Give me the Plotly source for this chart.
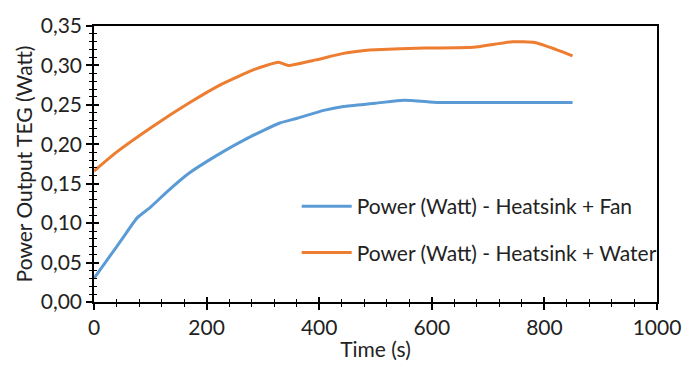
import plotly.graph_objects as go

fan_t = [0, 25, 50, 77, 100, 130, 168, 216, 268, 330, 361, 408, 443, 500, 550, 610, 650, 700, 750, 800, 850]
fan_p = [0.030, 0.055, 0.080, 0.107, 0.120, 0.140, 0.163, 0.185, 0.206, 0.227, 0.233, 0.243, 0.248, 0.252,
         0.256, 0.253, 0.253, 0.253, 0.253, 0.253, 0.253]

water_t = [0, 40, 103, 168, 226, 285, 328, 345, 394, 441, 481, 500, 587, 674, 743, 783, 825, 850]
water_p = [0.166, 0.190, 0.222, 0.252, 0.276, 0.295, 0.304, 0.300, 0.307, 0.315, 0.319, 0.320, 0.322,
           0.323, 0.330, 0.329, 0.319, 0.312]

names = ["Power (Watt) - Heatsink + Fan", "Power (Watt) - Heatsink + Water"]
colors = ["#5B9BD5", "#ED7D31"]

FONT = "Lato"
FS = 21

fig = go.Figure()
fig.add_trace(go.Scatter(x=fan_t, y=fan_p, mode="lines", name=names[0], legendgroup="a",
                         line=dict(color=colors[0], width=3, shape="spline", smoothing=0.5)))
fig.add_trace(go.Scatter(x=water_t, y=water_p, mode="lines", name=names[1], legendgroup="b",
                         line=dict(color=colors[1], width=3, shape="spline", smoothing=0.5)))
# invisible helper trace for the inside half of the crossing ticks
fig.add_trace(go.Scatter(x=[0], y=[0], xaxis="x2", yaxis="y2", mode="markers",
                         marker=dict(opacity=0), showlegend=False, hoverinfo="skip"))

axis_common = dict(showgrid=False, zeroline=False, linecolor="black", linewidth=1.5,
                   tickcolor="black", tickfont=dict(family=FONT, size=FS, color="#222"))

fig.update_layout(
    width=693, height=373,
    margin=dict(l=94, r=25, t=18, b=71),
    plot_bgcolor="white", paper_bgcolor="white",
    separators=", ",
    font=dict(family=FONT, color="#222"),
    xaxis=dict(range=[0, 1000], dtick=200, ticks="outside", ticklen=6, tickwidth=1.5,
               minor=dict(dtick=40, ticks="outside", ticklen=3, tickcolor="black", tickwidth=1),
               mirror=True, showline=True,
               title=dict(text="Time (s)", font=dict(family=FONT, size=FS, color="#222"), standoff=4),
               **axis_common),
    yaxis=dict(range=[0, 0.35], dtick=0.05, tickformat=".2f", ticks="outside", ticklen=6, tickwidth=1.5,
               minor=dict(dtick=0.01, ticks="outside", ticklen=3, tickcolor="black", tickwidth=1),
               mirror=True, showline=True,
               title=dict(text="Power Output TEG (Watt)", font=dict(family=FONT, size=FS, color="#222"),
                          standoff=2),
               **axis_common),
    xaxis2=dict(range=[0, 1000], overlaying="x", dtick=200, ticks="inside", ticklen=5, tickwidth=1.5,
                showticklabels=False, showgrid=False, zeroline=False, showline=False, tickcolor="black",
                minor=dict(dtick=40, ticks="inside", ticklen=3, tickcolor="black", tickwidth=1)),
    yaxis2=dict(range=[0, 0.35], overlaying="y", dtick=0.05, ticks="inside", ticklen=5, tickwidth=1.5,
                showticklabels=False, showgrid=False, zeroline=False, showline=False, tickcolor="black",
                minor=dict(dtick=0.01, ticks="inside", ticklen=3, tickcolor="black", tickwidth=1)),
    legend=dict(x=0.36, y=0.42, xanchor="left", yanchor="top", bgcolor="rgba(0,0,0,0)",
                font=dict(family=FONT, size=FS, color="#222"), tracegroupgap=16,
                itemwidth=50),
    showlegend=True,
)

fig.write_html("out.html")
